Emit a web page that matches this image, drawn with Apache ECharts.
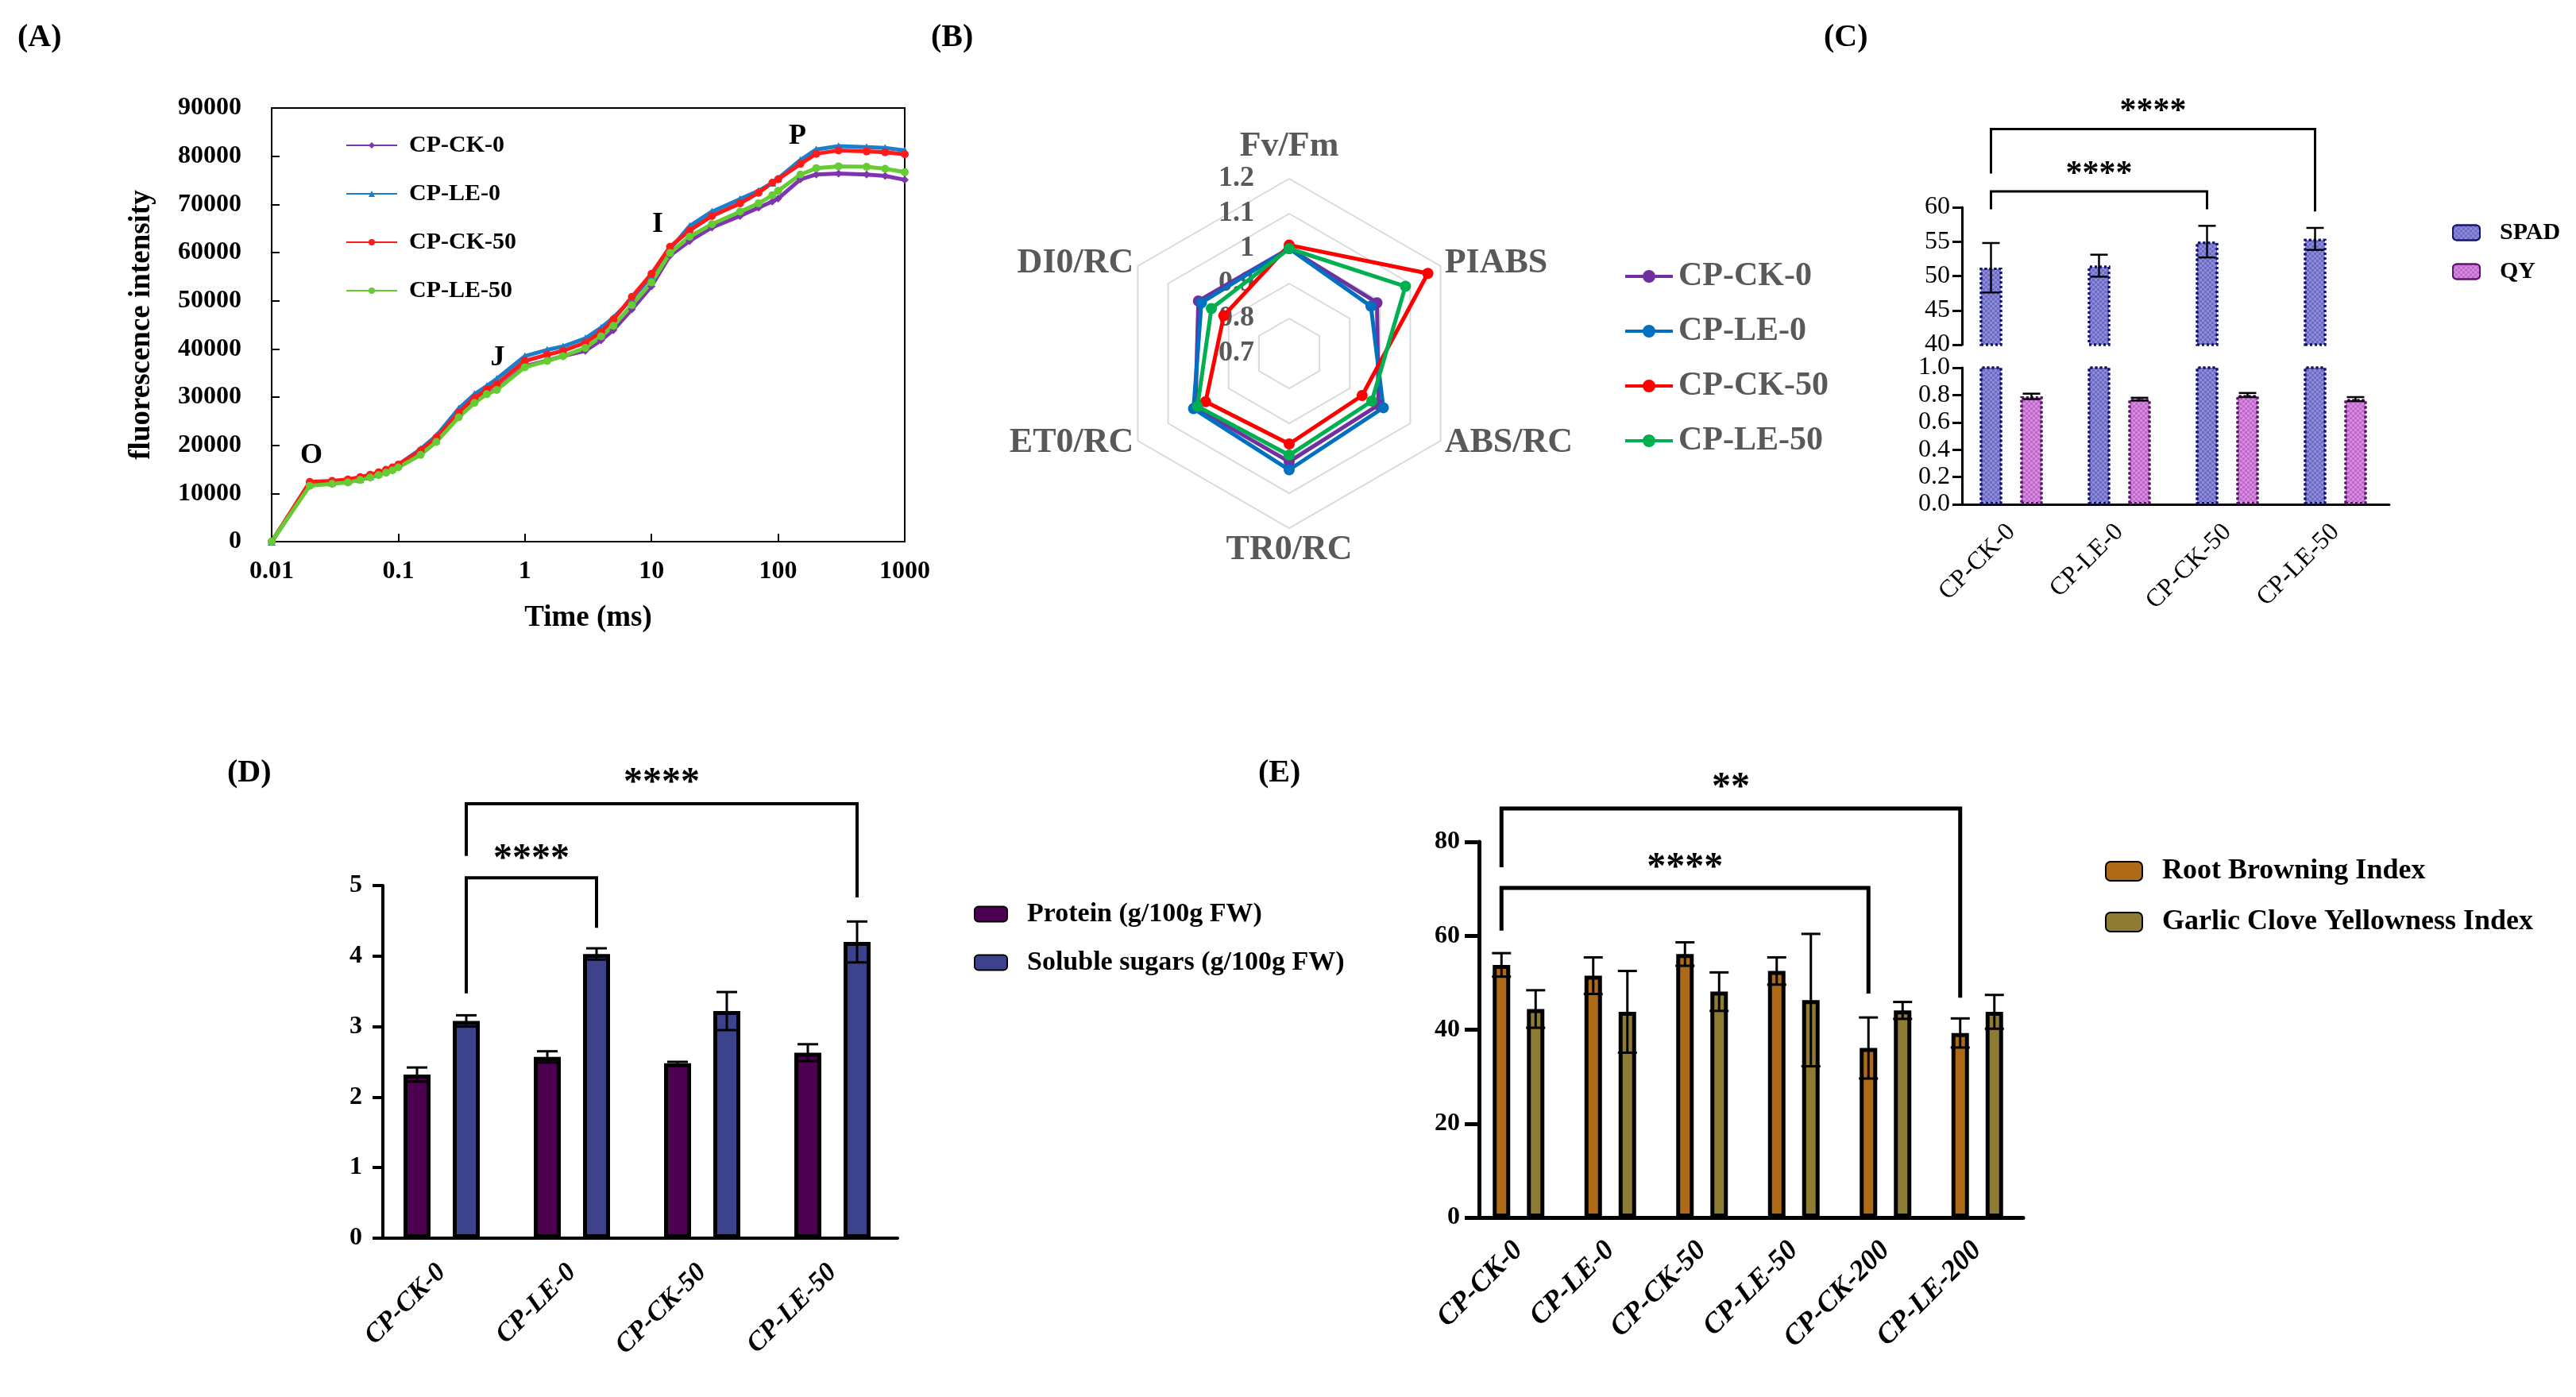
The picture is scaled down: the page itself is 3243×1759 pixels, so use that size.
<!DOCTYPE html>
<html>
<head>
<meta charset="utf-8">
<title>OJIP, JIP parameters, SPAD/QY, protein/sugar and browning indices</title>
<script src="https://cdn.jsdelivr.net/npm/echarts@6/dist/echarts.min.js"></script>
<style>
  html, body { margin: 0; padding: 0; background: #fff; }
  #wrap { position: relative; width: 3243px; height: 1759px; }
  .panel { position: absolute; left: 0; top: 0; width: 3243px; height: 1759px; }
</style>
</head>
<body>
<div id="wrap">
  <div class="panel" id="panelA"></div>
  <div class="panel" id="panelB"></div>
  <div class="panel" id="panelC"></div>
  <div class="panel" id="panelD"></div>
  <div class="panel" id="panelE"></div>
</div>
<script>
  var SERIF = '"Liberation Serif", "Times New Roman", serif';

  // ---- (A) OJIP fluorescence transient ----
  var ojipNames = ['CP-CK-0', 'CP-LE-0', 'CP-CK-50', 'CP-LE-50'];
  var ojipTime = [0.01, 0.02, 0.03, 0.04, 0.05, 0.06, 0.07, 0.08, 0.09, 0.1,
    0.15, 0.2, 0.3, 0.4, 0.5, 0.6, 1, 1.5, 2, 3, 4, 5, 7, 10, 14,
    20, 30, 50, 70, 90, 100, 150, 200, 300, 500, 700, 1000];
  var ojipCK0 = [0, 11800, 12200, 12400, 12900, 13400, 14000, 14500, 15000, 15600,
    18400, 21200, 26000, 29000, 30800, 31600, 36400, 37600, 38500, 39600, 41800, 43900, 48200, 53000, 59400,
    62400, 65200, 67600, 69300, 70600, 71200, 75200, 76200, 76400, 76200, 75900, 75100];
  var ojipLE0 = [0, 12000, 12300, 12600, 13000, 13600, 14200, 14800, 15300, 16000,
    19200, 22000, 27600, 30600, 32300, 33800, 38500, 39800, 40500, 42200, 44400, 46500, 50400, 55100, 60700,
    65500, 68500, 71100, 72800, 74500, 75400, 79200, 81400, 82100, 81900, 81700, 81200];
  var ojipCK50 = [0, 12400, 12600, 12900, 13400, 13900, 14400, 14900, 15400, 16000,
    18900, 21600, 26800, 29800, 31600, 32700, 37500, 38800, 39600, 41300, 43500, 46100, 50800, 55600, 61200,
    64600, 67600, 70200, 72400, 74500, 75200, 78400, 80500, 81200, 81000, 80800, 80400];
  var ojipLE50 = [0, 11600, 12000, 12300, 12800, 13300, 13800, 14300, 14800, 15400,
    18000, 20700, 25800, 28800, 30600, 31500, 36200, 37500, 38500, 40200, 42600, 44800, 49100, 53800, 59900,
    63300, 65900, 68500, 70200, 71900, 72800, 76200, 77500, 77900, 77800, 77400, 76700];
  var ojipPhaseName = ['O', 'J', 'I', 'P'];
  var ojipPhaseTime = [0.0206, 0.61, 11.2, 142];
  var ojipPhaseValue = [17900, 38200, 65900, 84100];

  // ---- (B) JIP-test radar ----
  var radarIndicators = ['Fv/Fm', 'DI0/RC', 'ET0/RC', 'TR0/RC', 'ABS/RC', 'PIABS'];
  var radarCK0 = [1.00, 1.00, 1.01, 1.01, 0.995, 0.99];
  var radarLE0 = [1.00, 0.99, 1.016, 1.033, 1.011, 0.97];
  var radarCK50 = [1.01, 0.916, 0.976, 0.959, 0.941, 1.158];
  var radarLE50 = [1.00, 0.957, 1.003, 0.991, 0.973, 1.084];

  // ---- (C) SPAD and QY ----
  var cCategories = ['CP-CK-0', 'CP-LE-0', 'CP-CK-50', 'CP-LE-50'];
  var spadMean = [51.2, 51.5, 55.0, 55.4];
  var spadErr = [3.6, 1.6, 2.3, 1.6];
  var qyMean = [0.79, 0.77, 0.80, 0.77];
  var qyErr = [0.02, 0.01, 0.015, 0.015];
  // [from, to, bar level, left leg end, right leg end, label level, label]
  var cBrackets = [[0, 2, 62.3, 59.7, 59.7, 65.5, '****'], [0, 3, 71.4, 64.9, 59.4, 74.6, '****']];

  // ---- (D) protein and soluble sugars ----
  var dCategories = ['CP-CK-0', 'CP-LE-0', 'CP-CK-50', 'CP-LE-50'];
  var protein = [2.32, 2.57, 2.48, 2.63];
  var proteinErr = [0.10, 0.08, 0.02, 0.12];
  var sugar = [3.08, 4.03, 3.22, 4.20];
  var sugarErr = [0.08, 0.08, 0.27, 0.29];
  var dBrackets = [[0, 1, 5.11, 3.47, 4.40, 5.45, '****'], [0, 3, 6.16, 5.42, 4.83, 6.53, '****']];

  // ---- (E) browning / yellowness ----
  var eCategories = ['CP-CK-0', 'CP-LE-0', 'CP-CK-50', 'CP-LE-50', 'CP-CK-200', 'CP-LE-200'];
  var rootBrowning = [53.8, 51.5, 56.1, 52.5, 36.1, 39.3];
  var rootBrowningErr = [2.5, 3.9, 2.5, 2.9, 6.5, 3.1];
  var cloveYellow = [44.4, 43.8, 48.1, 46.3, 44.1, 43.8];
  var cloveYellowErr = [4.0, 8.7, 4.1, 14.1, 1.8, 3.6];
  var eBrackets = [[0, 4, 70.2, 61.1, 47.7, 75.6, '****'], [0, 5, 87.1, 74.6, 46.8, 92.7, '**']];

  function font(size, weight, style) {
    return { fontFamily: SERIF, fontSize: size, fontWeight: weight || 'normal', fontStyle: style || 'normal', color: '#000' };
  }

  function errorBars(xIdx, yIdx, means, errs, shift, capHalf, width) {
    return {
      type: 'custom', xAxisIndex: xIdx, yAxisIndex: yIdx, z: 10, clip: false, silent: true,
      encode: { x: 0, y: [1, 2] },
      data: means.map(function (m, i) { return [i, m - errs[i], m + errs[i]]; }),
      renderItem: function (params, api) {
        var lo = api.coord([api.value(0), api.value(1)]);
        var hi = api.coord([api.value(0), api.value(2)]);
        var x = lo[0] + shift;
        var st = { stroke: '#000', lineWidth: width };
        return { type: 'group', children: [
          { type: 'line', shape: { x1: x, y1: lo[1], x2: x, y2: hi[1] }, style: st },
          { type: 'line', shape: { x1: x - capHalf, y1: hi[1], x2: x + capHalf, y2: hi[1] }, style: st },
          { type: 'line', shape: { x1: x - capHalf, y1: lo[1], x2: x + capHalf, y2: lo[1] }, style: st }
        ] };
      }
    };
  }

  function brackets(xIdx, yIdx, list, shift, lineW, size) {
    return {
      type: 'custom', xAxisIndex: xIdx, yAxisIndex: yIdx, z: 12, clip: false, silent: true,
      encode: { x: [0, 1], y: [2, 3, 4, 5] },
      data: list.map(function (b) { return b.slice(0, 6); }),
      renderItem: function (params, api) {
        var b = list[params.dataIndex];
        var xL = api.coord([b[0], b[2]])[0] + shift;
        var xR = api.coord([b[1], b[2]])[0] + shift;
        var yLevel = api.coord([b[0], b[2]])[1];
        var yL = api.coord([b[0], b[3]])[1];
        var yR = api.coord([b[1], b[4]])[1];
        var yStar = api.coord([b[0], b[5]])[1] + size * 0.16;
        return { type: 'group', children: [
          { type: 'polyline', shape: { points: [[xL, yL], [xL, yLevel], [xR, yLevel], [xR, yR]] },
            style: { stroke: '#000', lineWidth: lineW, fill: 'none' } },
          { type: 'text', style: { text: b[6], x: (xL + xR) / 2, y: yStar, align: 'center', verticalAlign: 'middle',
            font: 'bold ' + size + 'px ' + SERIF, fill: '#000' } }
        ] };
      }
    };
  }

  function panelLabel(text, x, y) {
    return { type: 'text', left: x, top: y, style: { text: text, font: 'bold 40px ' + SERIF, fill: '#000' } };
  }

  // ================= (A) =================
  var chartA = echarts.init(document.getElementById('panelA'));
  var ojipColors = ['#7F35B2', '#1B7FCC', '#FF1A1A', '#66CC33'];
  var ojipSymbols = ['diamond', 'triangle', 'circle', 'circle'];
  var ojipSets = [ojipCK0, ojipLE0, ojipCK50, ojipLE50];
  chartA.setOption({
    animation: false,
    graphic: [
      panelLabel('(A)', 22, 28), panelLabel('(B)', 1172, 28), panelLabel('(C)', 2296, 28),
      panelLabel('(D)', 286, 954), panelLabel('(E)', 1584, 954)
    ],
    grid: { left: 342, top: 136, width: 797, height: 546, show: true, borderColor: '#000', borderWidth: 2 },
    legend: {
      orient: 'vertical', left: 430, top: 163, itemGap: 31, itemWidth: 64, itemHeight: 10,
      data: ojipNames, textStyle: Object.assign(font(30, 'bold'), { padding: [0, 0, 0, 10] })
    },
    xAxis: {
      type: 'log', logBase: 10, min: 0.01, max: 1000,
      name: 'Time (ms)', nameLocation: 'middle', nameGap: 78, nameTextStyle: font(37, 'bold'),
      axisLine: { lineStyle: { color: '#000', width: 2 } },
      axisTick: { inside: true, length: 10, lineStyle: { color: '#000', width: 2 } },
      axisLabel: Object.assign(font(32, 'bold'), { margin: 22, formatter: function (v) { return String(+(+v).toPrecision(3)); } }),
      splitLine: { show: false }
    },
    yAxis: {
      type: 'value', min: 0, max: 90000, interval: 10000,
      name: 'fluorescence intensity', nameLocation: 'middle', nameGap: 145, nameTextStyle: font(37, 'bold'),
      axisLine: { show: true, lineStyle: { color: '#000', width: 2 } },
      axisTick: { show: true, inside: true, length: 10, lineStyle: { color: '#000', width: 2 } },
      axisLabel: Object.assign(font(32, 'bold'), { margin: 38, formatter: function (v) { return String(v); } }),
      splitLine: { show: false }
    },
    series: ojipSets.map(function (vals, k) {
      return {
        type: 'line', name: ojipNames[k], symbol: ojipSymbols[k], symbolSize: 10,
        color: ojipColors[k], lineStyle: { width: 5 },
        data: ojipTime.map(function (t, i) { return [t, vals[i]]; })
      };
    }).concat([{
      type: 'custom', silent: true, clip: false,
      data: ojipPhaseTime.map(function (t, i) { return [t, ojipPhaseValue[i]]; }),
      renderItem: function (params, api) {
        var p = api.coord([api.value(0), api.value(1)]);
        return { type: 'text', style: { text: ojipPhaseName[params.dataIndex], x: p[0], y: p[1],
          align: 'center', verticalAlign: 'middle', font: 'bold 36px ' + SERIF, fill: '#000' } };
      }
    }])
  });

  // ================= (B) =================
  var chartB = echarts.init(document.getElementById('panelB'));
  var radarNames = ['CP-CK-0', 'CP-LE-0', 'CP-CK-50', 'CP-LE-50'];
  var radarColors = ['#7030A0', '#0070C0', '#FF0000', '#00B050'];
  var radarSets = [radarCK0, radarLE0, radarCK50, radarLE50];
  chartB.setOption({
    animation: false,
    legend: {
      orient: 'vertical', left: 2041, top: 322, itemGap: 27, itemWidth: 60, itemHeight: 16,
      icon: 'path://M0,6 L60,6 L60,10 L0,10 Z M22,8 A8,8 0 1,1 38,8 A8,8 0 1,1 22,8 Z',
      data: radarNames, textStyle: Object.assign(font(42, 'bold'), { color: '#595959', padding: [0, 0, 0, 2] })
    },
    radar: {
      center: [1623, 445], radius: 220, startAngle: 90, splitNumber: 5, shape: 'polygon',
      nameGap: 6,
      axisName: { color: '#595959', fontSize: 44, fontWeight: 'bold', fontFamily: SERIF },
      splitLine: { lineStyle: { color: '#D9D9D9', width: 2 } },
      splitArea: { show: false },
      axisLine: { show: false },
      axisTick: { show: false },
      axisLabel: { show: false },
      indicator: radarIndicators.map(function (name, i) {
        var ind = { name: name, min: 0.7, max: 1.2 };
        if (i === 0) {
          ind.axisLabel = { show: true, color: '#595959', fontSize: 36, fontWeight: 'bold', fontFamily: SERIF, margin: 44 };
        }
        return ind;
      })
    },
    series: radarSets.map(function (vals, k) {
      return {
        type: 'radar', name: radarNames[k], symbol: 'circle', symbolSize: 14,
        color: radarColors[k], lineStyle: { width: 5 },
        data: [{ name: radarNames[k], value: vals }]
      };
    })
  });

  // ================= (C) =================
  var chartC = echarts.init(document.getElementById('panelC'));
  var cBarW = 28, cSep = 51;
  var cGap = ((cSep - cBarW) / cBarW * 100) + '%';
  var spadStyle = {
    color: '#8C8CDB', borderColor: '#14146E', borderWidth: 3, borderType: 'dotted',
    decal: { symbol: 'rect', symbolSize: 1, dashArrayX: [[3, 3], [0, 3, 3, 0]], dashArrayY: [3, 0], color: 'rgba(50,50,150,0.35)' }
  };
  var qyStyle = {
    color: '#D98BE3', borderColor: '#5A146E', borderWidth: 3, borderType: 'dotted',
    decal: { symbol: 'rect', symbolSize: 1, dashArrayX: [[3, 3], [0, 3, 3, 0]], dashArrayY: [3, 0], color: 'rgba(140,40,150,0.35)' }
  };
  function cY(gridIdx, min, max, interval, fmt) {
    return {
      type: 'value', gridIndex: gridIdx, min: min, max: max, interval: interval, offset: -6,
      axisLine: { show: true, lineStyle: { color: '#000', width: 3 } },
      axisTick: { show: true, length: 12, lineStyle: { color: '#000', width: 3 } },
      axisLabel: Object.assign(font(32), { margin: 15, formatter: fmt }),
      splitLine: { show: false }
    };
  }
  chartC.setOption({
    animation: false,
    legend: {
      orient: 'vertical', left: 3082, top: 273, itemGap: 19, itemWidth: 34, itemHeight: 19,
      data: ['SPAD', 'QY'], textStyle: Object.assign(font(30, 'bold'), { padding: [0, 0, 0, 20] })
    },
    grid: [
      { left: 2464, top: 261, width: 544, height: 173 },
      { left: 2464, top: 463, width: 544, height: 172 }
    ],
    xAxis: [
      { type: 'category', gridIndex: 0, data: cCategories, show: false },
      { type: 'category', gridIndex: 1, data: cCategories,
        axisLine: { lineStyle: { color: '#000', width: 3 } },
        axisTick: { alignWithLabel: true, length: 16, lineStyle: { color: '#000', width: 3 } },
        axisLabel: Object.assign(font(32), { rotate: 45, margin: 30, interval: 0 }) }
    ],
    yAxis: [
      cY(0, 40, 60, 5),
      cY(1, 0, 1, 0.2, function (v) { return v.toFixed(1); })
    ],
    series: [
      { type: 'bar', name: 'SPAD', xAxisIndex: 0, yAxisIndex: 0, barWidth: cBarW, barGap: cGap, itemStyle: spadStyle, data: spadMean },
      { type: 'bar', name: 'QY', xAxisIndex: 0, yAxisIndex: 0, barWidth: cBarW, barGap: cGap, itemStyle: qyStyle, data: qyMean },
      { type: 'bar', name: 'SPAD', xAxisIndex: 1, yAxisIndex: 1, barWidth: cBarW, barGap: cGap, itemStyle: spadStyle, data: spadMean },
      { type: 'bar', name: 'QY', xAxisIndex: 1, yAxisIndex: 1, barWidth: cBarW, barGap: cGap, itemStyle: qyStyle, data: qyMean },
      errorBars(0, 0, spadMean, spadErr, -cSep / 2, 11, 2.5),
      errorBars(1, 1, qyMean, qyErr, cSep / 2, 11, 2.5),
      brackets(0, 0, cBrackets, -cSep / 2, 3, 42)
    ]
  });

  // ================= (D) =================
  var chartD = echarts.init(document.getElementById('panelD'));
  var dBarW = 34, dSep = 62;
  var dGap = ((dSep - dBarW) / dBarW * 100) + '%';
  chartD.setOption({
    animation: false,
    legend: {
      orient: 'vertical', left: 1221, top: 1129, itemGap: 27, itemWidth: 41, itemHeight: 19,
      data: ['Protein (g/100g FW)', 'Soluble sugars (g/100g FW)'],
      textStyle: Object.assign(font(34, 'bold'), { padding: [0, 0, 0, 20] })
    },
    grid: { left: 474, top: 1115, width: 656, height: 444 },
    xAxis: {
      type: 'category', data: dCategories,
      axisLine: { lineStyle: { color: '#000', width: 4 } },
      axisTick: { alignWithLabel: true, length: 20, lineStyle: { color: '#000', width: 4 } },
      axisLabel: Object.assign(font(34, 'bold', 'italic'), { rotate: 45, margin: 38, interval: 0 })
    },
    yAxis: {
      type: 'value', min: 0, max: 5, interval: 1, offset: -8,
      axisLine: { show: true, lineStyle: { color: '#000', width: 4 } },
      axisTick: { show: true, length: 13, lineStyle: { color: '#000', width: 4 } },
      axisLabel: Object.assign(font(32, 'bold'), { margin: 26 }),
      splitLine: { show: false }
    },
    series: [
      { type: 'bar', name: 'Protein (g/100g FW)', barWidth: dBarW, barGap: dGap,
        itemStyle: { color: '#4B0050', borderColor: '#000', borderWidth: 5 }, data: protein },
      { type: 'bar', name: 'Soluble sugars (g/100g FW)', barWidth: dBarW, barGap: dGap,
        itemStyle: { color: '#3C438C', borderColor: '#000', borderWidth: 5 }, data: sugar },
      errorBars(0, 0, protein, proteinErr, -dSep / 2, 13, 3),
      errorBars(0, 0, sugar, sugarErr, dSep / 2, 13, 3),
      brackets(0, 0, dBrackets, dSep / 2, 4, 48)
    ]
  });

  // ================= (E) =================
  var chartE = echarts.init(document.getElementById('panelE'));
  var eBarW = 22, eSep = 43;
  var eGap = ((eSep - eBarW) / eBarW * 100) + '%';
  chartE.setOption({
    animation: false,
    legend: {
      orient: 'vertical', left: 2645, top: 1074, itemGap: 28, itemWidth: 46, itemHeight: 24,
      data: ['Root Browning Index', 'Garlic Clove Yellowness Index'],
      textStyle: Object.assign(font(36, 'bold'), { padding: [0, 0, 0, 20] })
    },
    grid: { left: 1854, top: 1060, width: 693, height: 473 },
    xAxis: {
      type: 'category', data: eCategories,
      axisLine: { lineStyle: { color: '#000', width: 5 } },
      axisTick: { alignWithLabel: true, length: 20, lineStyle: { color: '#000', width: 4 } },
      axisLabel: Object.assign(font(36, 'bold', 'italic'), { rotate: 45, margin: 36, interval: 0 })
    },
    yAxis: {
      type: 'value', min: 0, max: 80, interval: 20, offset: -8,
      axisLine: { show: true, lineStyle: { color: '#000', width: 5 } },
      axisTick: { show: true, length: 18, lineStyle: { color: '#000', width: 5 } },
      axisLabel: Object.assign(font(32, 'bold'), { margin: 24 }),
      splitLine: { show: false }
    },
    series: [
      { type: 'bar', name: 'Root Browning Index', barWidth: eBarW, barGap: eGap,
        itemStyle: { color: '#AE6A16', borderColor: '#000', borderWidth: 5 }, data: rootBrowning },
      { type: 'bar', name: 'Garlic Clove Yellowness Index', barWidth: eBarW, barGap: eGap,
        itemStyle: { color: '#8E7C34', borderColor: '#000', borderWidth: 5 }, data: cloveYellow },
      errorBars(0, 0, rootBrowning, rootBrowningErr, -eSep / 2, 12, 3),
      errorBars(0, 0, cloveYellow, cloveYellowErr, eSep / 2, 12, 3),
      brackets(0, 0, eBrackets, -eSep / 2, 5, 48)
    ]
  });
</script>
</body>
</html>
